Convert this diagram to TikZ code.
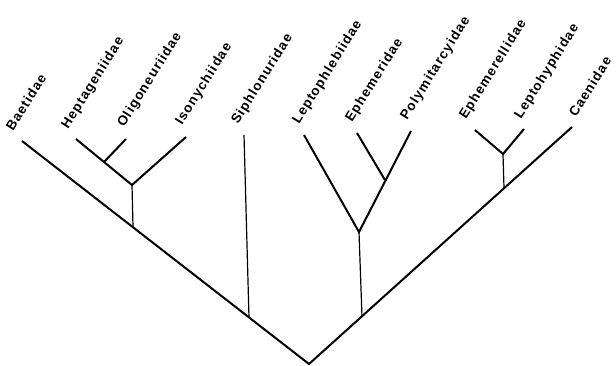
\documentclass[tikz,border=0pt]{standalone}
\usepackage{fontspec}
\setmainfont{Liberation Sans}
\newfontfamily\labfont[LetterSpace=8]{Liberation Sans Bold}

\begin{document}
\begin{tikzpicture}[x=1pt,y=-1pt,
    br/.style={line width=2pt},
    stem/.style={line width=1.2pt},
    lab/.style={rotate=58,anchor=base west,inner sep=0,font=\labfont\fontsize{13.5}{15}\selectfont}]
  \useasboundingbox (0,0) rectangle (616,365);

  % junctions
  \coordinate (root) at (309,364);
  \coordinate (l1) at (133,227);
  \coordinate (l2) at (132,185);
  \coordinate (l3) at (104,162);
  \coordinate (s1) at (249,318);
  \coordinate (r1) at (362,317);
  \coordinate (r2) at (359,232);
  \coordinate (r3) at (385,180);
  \coordinate (r4) at (504,188);
  \coordinate (r5) at (503,154);

  % leaf ends
  \coordinate (baet) at (22,141);
  \coordinate (hept) at (76,139);
  \coordinate (olig) at (126,139);
  \coordinate (ison) at (186,137);
  \coordinate (siph) at (244,135);
  \coordinate (lphl) at (304,135);
  \coordinate (ephd) at (357,133);
  \coordinate (poly) at (411,131);
  \coordinate (ephl) at (475,130);
  \coordinate (lphy) at (524,129);
  \coordinate (caen) at (572,127);

  % names
  \node[lab] (baetN) at (13,132) {Baetidae};
  \node[lab] (heptN) at (68,130) {Heptageniidae};
  \node[lab] (oligN) at (124,128) {Oligoneuriidae};
  \node[lab] (isonN) at (182,126) {Isonychiidae};
  \node[lab] (siphN) at (238,125) {Siphlonuridae};
  \node[lab] (lphlN) at (299,125) {Leptophlebiidae};
  \node[lab] (ephdN) at (352,123) {Ephemeridae};
  \node[lab] (polyN) at (407,121) {Polymitarcyidae};
  \node[lab] (ephlN) at (466,120) {Ephemerellidae};
  \node[lab] (lphyN) at (521,120) {Leptohyphidae};
  \node[lab] (caenN) at (576,118) {Caenidae};

  % tree
  \draw[br] (baet) -- (root) -- (caen);
  \draw[stem] (l1) -- (l2);
  \draw[br] (hept) -- (l2) -- (ison);
  \draw[br] (l3) -- (olig);
  \draw[stem] (s1) -- (siph);
  \draw[stem] (r1) -- (r2);
  \draw[br] (lphl) -- (r2) -- (poly);
  \draw[br] (r3) -- (ephd);
  \draw[stem] (r4) -- (r5);
  \draw[br] (ephl) -- (r5) -- (lphy);
\end{tikzpicture}
\end{document}
